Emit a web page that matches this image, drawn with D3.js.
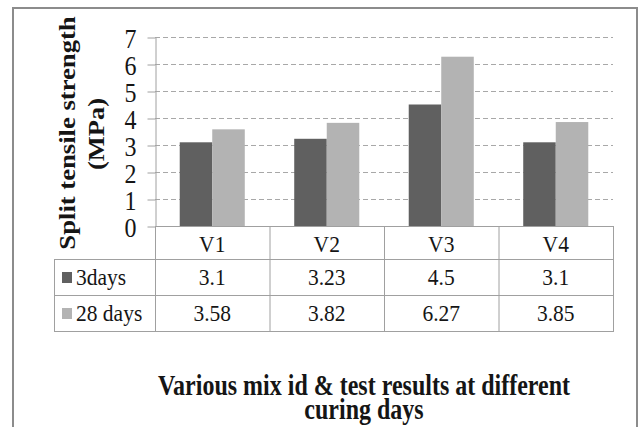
<!DOCTYPE html>
<html>
<head>
<meta charset="utf-8">
<script src="https://cdn.jsdelivr.net/npm/d3@7"></script>
<style>
  body { margin: 0; background: #fff; }
  svg { display: block; }
</style>
</head>
<body>
<div class="mainContainer"></div>
<script>
const mixes = ['V1', 'V2', 'V3', 'V4'];
const seriesNames = ['3days', '28 days'];
const days3 = [3.1, 3.23, 4.5, 3.1];
const days28 = [3.58, 3.82, 6.27, 3.85];
const yTicks = [0, 1, 2, 3, 4, 5, 6, 7];
const colours = ['#606060', '#b3b3b3'];

const serif = '"Liberation Serif","Times New Roman",serif';
const lineCol = '#a0a0a0';
const ink = '#151515';

const svg = d3.select('.mainContainer')
    .append('svg')
    .attr('width', 639)
    .attr('height', 427);

// outer frame of the chart object
svg.append('rect')
    .attr('x', 13).attr('y', 8)
    .attr('width', 624).attr('height', 440)
    .attr('fill', 'none')
    .attr('stroke', '#8c8c8c')
    .attr('stroke-width', 2);

const x = d3.scaleBand()
    .domain(mixes)
    .range([155, 613]);

const xs = d3.scaleBand()
    .domain(seriesNames)
    .range([0, x.bandwidth()])
    .paddingOuter(0.76);

const y = d3.scaleLinear()
    .domain([0, 7])
    .range([226, 37]);

// dashed gridlines
svg.append('g').selectAll('line')
    .data(yTicks.filter(d => d > 0))
    .join('line')
    .attr('x1', 155).attr('x2', 613)
    .attr('y1', d => y(d) + 0.5).attr('y2', d => y(d) + 0.5)
    .attr('stroke', '#a8a8a8')
    .attr('stroke-dasharray', '5,3');

// bars
const rows = mixes.map((m, i) => ({ mix: m, vals: [days3[i], days28[i]] }));

svg.append('g').selectAll('g')
    .data(rows)
    .join('g')
    .attr('transform', d => `translate(${x(d.mix)},0)`)
    .selectAll('rect')
    .data(d => d.vals.map((v, j) => ({ s: seriesNames[j], v: v, c: colours[j] })))
    .join('rect')
    .attr('x', d => xs(d.s))
    .attr('width', xs.bandwidth())
    .attr('y', d => y(d.v))
    .attr('height', d => y(0) - y(d.v))
    .attr('fill', d => d.c);

// y axis
const yAxis = d3.axisLeft(y)
    .tickValues(yTicks)
    .tickSize(8)
    .tickSizeOuter(0)
    .tickFormat(d3.format('d'));

const yg = svg.append('g')
    .attr('transform', 'translate(155.5,0.5)')
    .call(yAxis);

yg.attr('font-family', serif).attr('font-size', 24);
yg.select('.domain').attr('stroke', lineCol);
yg.selectAll('.tick line').attr('stroke', lineCol);
yg.selectAll('.tick text')
    .attr('x', null).attr('dy', null)
    .attr('fill', ink)
    .attr('transform', 'translate(-19,9.5) scale(1,1.18)');

// data table under the plot
const tableTop = 226, rowH = [33, 36, 36];
const rowY = [tableTop, tableTop + rowH[0], tableTop + rowH[0] + rowH[1], tableTop + rowH[0] + rowH[1] + rowH[2]];
const tableLeft = 54;
const colEdges = mixes.map(m => x(m)).concat([x.range()[1]]);

const tbl = svg.append('g').attr('stroke', lineCol).attr('stroke-width', 1);
tbl.append('line').attr('x1', 155).attr('x2', 613).attr('y1', rowY[0] + 0.5).attr('y2', rowY[0] + 0.5);
rowY.slice(1).forEach(ry => {
    tbl.append('line').attr('x1', tableLeft).attr('x2', 613).attr('y1', ry + 0.5).attr('y2', ry + 0.5);
});
tbl.append('line').attr('x1', tableLeft + 0.5).attr('x2', tableLeft + 0.5).attr('y1', rowY[1]).attr('y2', rowY[3] + 1);
tbl.selectAll('line.col')
    .data(colEdges)
    .join('line')
    .attr('class', 'col')
    .attr('x1', d => d + 0.5).attr('x2', d => d + 0.5)
    .attr('y1', rowY[0]).attr('y2', rowY[3] + 1);

const cellText = (g, tx, ty, txt, anchor) => g.append('text')
    .attr('transform', `translate(${tx},${ty}) scale(1,1.06)`)
    .attr('text-anchor', anchor)
    .attr('font-family', serif)
    .attr('font-size', 21.5)
    .attr('fill', ink)
    .text(txt);

const cells = svg.append('g');
mixes.forEach(m => cellText(cells, x(m) + x.bandwidth() / 2, rowY[0] + 26, m, 'middle'));
[days3, days28].forEach((vals, j) => {
    const base = rowY[j + 1] + 26;
    vals.forEach((v, i) => cellText(cells, x(mixes[i]) + x.bandwidth() / 2, base, String(v), 'middle'));
    cells.append('rect')
        .attr('x', 62).attr('y', rowY[j + 1] + 13)
        .attr('width', 10).attr('height', 11)
        .attr('fill', colours[j]);
    cellText(cells, 76, base, seriesNames[j], 'start');
});

// axis title
svg.append('text')
    .attr('transform', 'translate(75,133) scale(1,1.11) rotate(-90)')
    .attr('text-anchor', 'middle')
    .attr('font-family', serif).attr('font-weight', 'bold').attr('font-size', 24)
    .attr('fill', ink)
    .text('Split tensile strength');
svg.append('text')
    .attr('transform', 'translate(104,134) scale(1,1.15) rotate(-90)')
    .attr('text-anchor', 'middle')
    .attr('font-family', serif).attr('font-weight', 'bold').attr('font-size', 23)
    .attr('fill', ink)
    .text('(MPa)');

// chart title
const titleLines = ['Various mix id & test results at different', 'curing days'];
svg.append('g').selectAll('text')
    .data(titleLines)
    .join('text')
    .attr('transform', (d, i) => `translate(364,${395 + i * 24}) scale(1,1.2)`)
    .attr('text-anchor', 'middle')
    .attr('font-family', serif).attr('font-weight', 'bold').attr('font-size', 24)
    .attr('fill', ink)
    .text(d => d);
</script>
</body>
</html>
